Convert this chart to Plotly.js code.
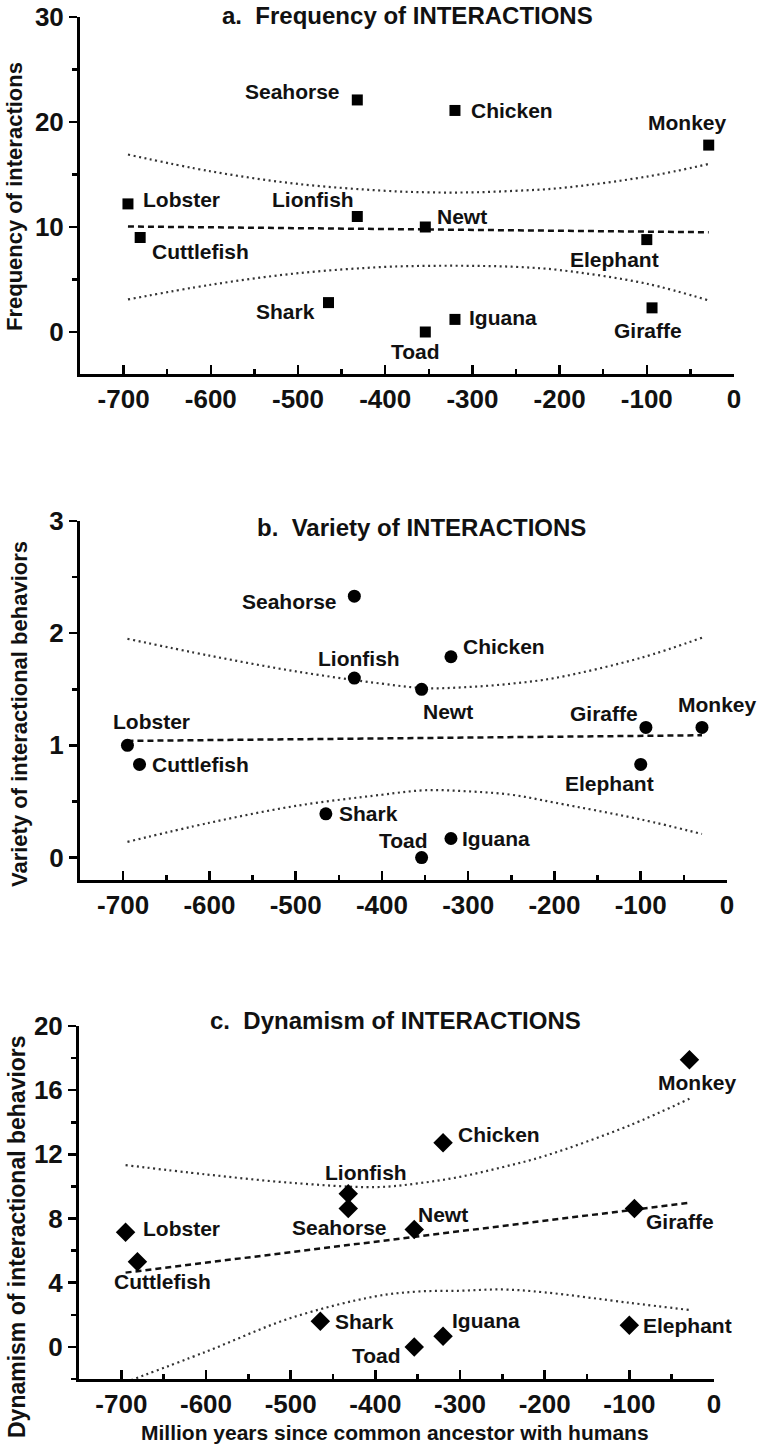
<!DOCTYPE html>
<html>
<head>
<meta charset="utf-8">
<script src="https://cdn.plot.ly/plotly-3.0.1.min.js"></script>
<style>
  body { margin: 0; background: #fff; }
  #chart { width: 762px; height: 1447px; }
</style>
</head>
<body>
<div id="chart"></div>
<script>
// animals and time since common ancestor with humans (million years, negative = past)
const animals = ['Lobster', 'Cuttlefish', 'Shark', 'Seahorse', 'Lionfish', 'Toad', 'Newt', 'Iguana', 'Chicken', 'Elephant', 'Giraffe', 'Monkey']
const mya = [-695, -681, -465, -432, -432, -354, -354, -320, -320, -100, -94, -29]

// values per panel
const frequency = [12.2, 9.0, 2.8, 22.1, 11.0, 0, 10.0, 1.2, 21.1, 8.8, 2.3, 17.8]
const variety = [1.0, 0.83, 0.39, 2.33, 1.6, 0, 1.5, 0.17, 1.79, 0.83, 1.16, 1.16]
const dynamism = [7.15, 5.3, 1.6, 8.63, 9.54, 0, 7.32, 0.67, 12.72, 1.35, 8.63, 17.9]

// regression lines (end points) and confidence bands
const fitX = [-695, -29]
const fitFreq = [10.05, 9.5]
const fitVariety = [1.04, 1.09]
const fitDynamism = [4.63, 8.98]

const bandX = [-695, -600, -500, -400, -350, -300, -250, -200, -100, -29]
const freqUpper = [16.9, 15.3, 14.1, 13.45, 13.3, 13.3, 13.45, 13.7, 14.8, 16.0]
const freqLower = [3.1, 4.5, 5.6, 6.2, 6.3, 6.3, 6.2, 5.9, 4.6, 3.0]
const varUpper = [1.95, 1.80, 1.66, 1.55, 1.51, 1.52, 1.55, 1.60, 1.78, 1.96]
const varLower = [0.14, 0.31, 0.46, 0.56, 0.60, 0.59, 0.56, 0.49, 0.34, 0.21]
const dynUpper = [11.33, 10.75, 10.23, 9.96, 10.19, 10.6, 11.2, 11.9, 13.8, 15.47]
const dynLower = [-2.2, -0.3, 1.8, 3.15, 3.45, 3.5, 3.58, 3.4, 2.75, 2.3]

const xTickVals = [-700, -600, -500, -400, -300, -200, -100, 0]
const xTickText = ['-700', '-600', '-500', '-400', '-300', '-200', '-100', '0']

const panelTitles = ['a.\u00a0 Frequency of INTERACTIONS', 'b.\u00a0 Variety of INTERACTIONS', 'c.\u00a0 Dynamism of INTERACTIONS']
const yTitles = ['Frequency of interactions', 'Variety of interactional behaviors', 'Dynamism of interactional behaviors']
const xTitle = 'Million years since common ancestor with humans'

const FONT = 'Liberation Sans, Arial, Helvetica, sans-serif'
const W = 762
const H = 1447
const px = (v) => v / W
const py = (v) => 1 - v / H

// label placement: [anchor, dx, dy] in pixels, dy positive = down
const labelsA = [
  ['left', 14, -4], ['left', 11, 14], ['right', -13, 9], ['right', -16, -8],
  ['right', -2, -17], ['center', -10, 20], ['left', 11, -10], ['left', 13, -2],
  ['left', 15, 0], ['center', -32, 20], ['center', -4, 23], ['center', -21, -23],
]
const labelsB = [
  ['center', 24, -24], ['left', 11, 0], ['left', 12, 0], ['right', -16, 5],
  ['center', 5, -20], ['right', 7, -17], ['left', 0, 22], ['left', 10, 0],
  ['left', 11, -10], ['center', -31, 19], ['right', -7, -14], ['center', 16, -23],
]
const labelsC = [
  ['left', 16, -4], ['center', 25, 20], ['left', 14, 0], ['center', -9, 19],
  ['center', 18, -21], ['right', -12, 9], ['left', 3, -15], ['left', 8, -16],
  ['left', 14, -8], ['left', 13, 0], ['left', 11, 13], ['center', 8, 23],
]

const panels = [
  { xa: 'x', ya: 'y', values: frequency, fit: fitFreq, upper: freqUpper, lower: freqLower, symbol: 'square', size: 11, labels: labelsA },
  { xa: 'x2', ya: 'y2', values: variety, fit: fitVariety, upper: varUpper, lower: varLower, symbol: 'circle', size: 13, labels: labelsB },
  { xa: 'x3', ya: 'y3', values: dynamism, fit: fitDynamism, upper: dynUpper, lower: dynLower, symbol: 'diamond', size: 15, labels: labelsC },
]

const traces = []
const annotations = []

panels.forEach((p) => {
  // dotted confidence band
  traces.push({
    x: bandX, y: p.upper, xaxis: p.xa, yaxis: p.ya, type: 'scatter', mode: 'lines',
    line: { color: '#333', width: 2.2, dash: '2px,3.5px', shape: 'spline' },
  })
  traces.push({
    x: bandX, y: p.lower, xaxis: p.xa, yaxis: p.ya, type: 'scatter', mode: 'lines',
    line: { color: '#333', width: 2.2, dash: '2px,3.5px', shape: 'spline' },
  })
  // dashed regression line
  traces.push({
    x: fitX, y: p.fit, xaxis: p.xa, yaxis: p.ya, type: 'scatter', mode: 'lines',
    line: { color: '#111', width: 2.5, dash: '6px,4px' },
  })
  traces.push({
    x: mya, y: p.values, xaxis: p.xa, yaxis: p.ya, type: 'scatter', mode: 'markers',
    marker: { symbol: p.symbol, size: p.size, color: '#000' },
    cliponaxis: false,
  })
  animals.forEach((name, i) => {
    const [anchor, dx, dy] = p.labels[i]
    annotations.push({
      xref: p.xa, yref: p.ya, x: mya[i], y: p.values[i],
      text: name, showarrow: false, xanchor: anchor, yanchor: 'middle',
      xshift: dx, yshift: -dy, borderpad: 0,
      font: { family: FONT, size: 21, weight: 700, color: '#111' },
    })
  })
})

// panel titles
const titlePos = [[407, 15], [421, 527], [395, 1020]]
panelTitles.forEach((t, i) => {
  annotations.push({
    xref: 'paper', yref: 'paper', x: px(titlePos[i][0]), y: py(titlePos[i][1]),
    text: t, showarrow: false, xanchor: 'center', yanchor: 'middle',
    font: { family: FONT, size: 24, weight: 700, color: '#111' },
  })
})

// y axis titles, rotated
const yTitlePos = [[14, 197, 22], [19, 714, 22], [17, 1237, 23]]
yTitles.forEach((t, i) => {
  annotations.push({
    xref: 'paper', yref: 'paper', x: px(yTitlePos[i][0]), y: py(yTitlePos[i][1]),
    text: t, showarrow: false, textangle: -90, xanchor: 'center', yanchor: 'middle',
    font: { family: FONT, size: yTitlePos[i][2], weight: 700, color: '#111' },
  })
})

annotations.push({
  xref: 'paper', yref: 'paper', x: px(395), y: py(1432),
  text: xTitle, showarrow: false, xanchor: 'center', yanchor: 'middle',
  font: { family: FONT, size: 21, weight: 700, color: '#111' },
})

const tickFont = { family: FONT, size: 26, weight: 700, color: '#111' }

const makeX = (domain, anchor) => ({
  domain: domain, anchor: anchor, range: [-750, 0],
  tickmode: 'array', tickvals: xTickVals, ticktext: xTickText,
  ticks: 'inside', ticklen: 9, tickwidth: 2.5, tickcolor: '#000',
  minor: { ticks: 'inside', ticklen: 5, tickwidth: 2.5, tickcolor: '#000', dtick: 50, tick0: 0 },
  showline: true, linecolor: '#000', linewidth: 3,
  showgrid: false, zeroline: false, tickfont: tickFont, fixedrange: true,
})

const makeY = (domain, anchor, range, dtick) => ({
  domain: domain, anchor: anchor, range: range,
  tick0: 0, dtick: dtick,
  ticks: 'outside', ticklen: 8, tickwidth: 2.5, tickcolor: '#000',
  minor: { ticks: 'outside', ticklen: 5, tickwidth: 2.5, tickcolor: '#000', dtick: dtick / 2, tick0: 0 },
  showline: true, linecolor: '#000', linewidth: 3,
  showgrid: false, zeroline: false, tickfont: tickFont, fixedrange: true,
})

const layout = {
  width: W,
  height: H,
  margin: { l: 0, r: 0, t: 0, b: 0 },
  showlegend: false,
  paper_bgcolor: '#fff',
  plot_bgcolor: '#fff',
  xaxis: makeX([px(80), px(734)], 'y'),
  yaxis: makeY([py(374), py(17)], 'x', [-4, 30], 10),
  xaxis2: makeX([px(80), px(727)], 'y2'),
  yaxis2: makeY([py(880), py(521)], 'x2', [-0.2, 3], 1),
  xaxis3: makeX([px(79), px(714)], 'y3'),
  yaxis3: makeY([py(1379), py(1026)], 'x3', [-2, 20], 4),
  annotations: annotations,
}

try {
  Plotly.newPlot('chart', traces, layout, { staticPlot: true })
} catch (e) {
  console.log('ERR', e)
}
</script>
</body>
</html>
